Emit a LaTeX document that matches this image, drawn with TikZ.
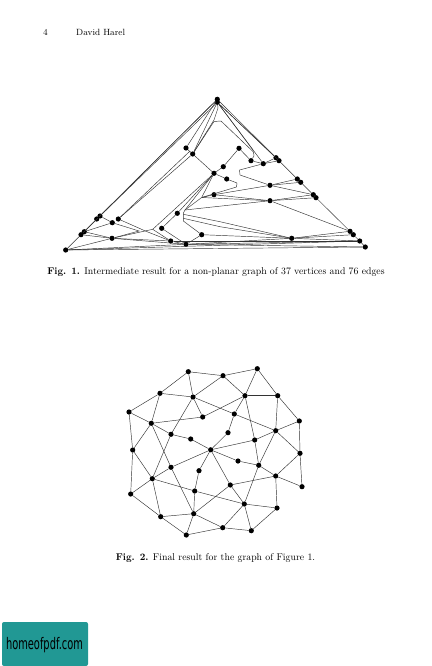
\documentclass[tikz,border=0pt]{standalone}
\usepackage{fontspec}
\newfontfamily\logofont{DejaVu Sans}
\definecolor{logoteal}{RGB}{33,152,148}
\tikzset{
 vtx/.style={circle,fill=black,inner sep=0pt,minimum size=5.2pt},
 edgeline/.style={line width=0.45pt,draw=black!80},
 caption/.style={font=\fontsize{9.8}{11}\selectfont,inner sep=0pt,anchor=base},
 header/.style={font=\fontsize{9}{11}\selectfont,inner sep=0pt,anchor=base west}
}
\begin{document}
\begin{tikzpicture}[x=1pt,y=-1pt]
\useasboundingbox (0,0) rectangle (431,666);
\fill[white] (0,0) rectangle (431,666);
\node[header] (pg) at (43,36) {4};
\node[header] (au) at (76,36) {David Harel};
\node[caption] (c1) at (216,274.5) {\textbf{Fig. 1.} Intermediate result for a non-planar graph of 37 vertices and 76 edges};
\node[caption] (c2) at (215.5,560) {\textbf{Fig. 2.} Final result for the graph of Figure 1.};
% Figure 1 vertices
\foreach \n/\x/\y in {T1/217.3/99.3,T2/217.3/102.3,O/65.7/250,A1/81/234.7,A2/84.3/231.7,B1/96.7/219,B2/100/216,C1/112.3/222.7,C2/118.3/219,D/112/238.3,E/170.7/241,F/186/244.3,G/161.7/228.3,H/177.3/213.3,I/201.7/234.7,J/214/194.7,K/214/173.3,M/192.7/154,N/186/148,P/239/148.3,Q/251/160.7,R/263.3/163.7,S1/276/157.7,S2/279/160.7,U/223.3/166.7,V/226.7/179,W1/297.3/179,W2/300.7/182.3,X/270/185.3,Y/270/200.7,Z1/313.3/194.7,Z2/316/197.7,a1/350/231.3,a2/353.3/234.7,b/291.7/238.3,c/359.7/241,d/365.3/247}
  \node[vtx] (\n) at (\x,\y) {};
\coordinate (p1) at (201.7,197.5);
\coordinate (p2) at (185,210);
\coordinate (p3) at (152.7,229.3);
% Figure 1 straight edges
\foreach \p/\q in {O/A1,A1/B1,A2/B2,B1/T1,B2/T1,B2/T2,O/d,O/c,O/D,O/F,A1/D,A2/D,A2/C1,B2/C1,D/E,D/F,E/F,G/F,G/H,F/I,N/M,M/K,N/T1,M/T2,H/K,K/U,U/P,P/Q,Q/R,R/S1,R/S2,T2/R,T1/S1,T2/S1,T2/S2,S1/S2,S2/W1,W1/W2,W2/Z1,Z1/Z2,Z2/a1,a1/a2,a2/c,c/d,K/V,J/X,X/W1,X/W2,X/Z1,J/Y,Y/Z1,Y/Z2,Y/a1,b/a1,b/a2,b/c,F/b,F/d,F/c,I/b,p2/K,p1/K,p2/p1,p2/Y,p1/Y,J/p1,p3/E,p3/K,D/p3}
  \draw[edgeline] (\p) -- (\q);
% Figure 1 routed edges
\draw[edgeline] (C2) -- (M);
\draw[edgeline] (C2) -- (189.5,151.5) -- (M);
\draw[edgeline] (C2) -- (146.5,231.5) -- (E);
\draw[edgeline] (C1) -- (139,231) -- (D);
\draw[edgeline] (M) -- (214,120) -- (218,108) -- (T2);
\draw[edgeline] (M) -- (214,121.5) -- (221,121) -- (253.5,152) -- (254,156) -- (Q);
\draw[edgeline] (T2) -- (253,150);
\draw[edgeline] (R) -- (239.5,170) -- (240,175) -- (X);
\draw[edgeline] (V) -- (237,183) -- (236.5,187) -- (p1);
\draw[edgeline] (I) -- (183.3,221) -- (183.3,213.3) -- (p2);
\draw[edgeline] (183.3,214.3) -- (220,221.7) -- (b);
\draw[edgeline] (183.3,218.3) -- (220,226.7) -- (b);
\draw[edgeline] (E) -- (c);
% Figure 2
\foreach \n/\x/\y in {va/188.3/371.7,vb/160/393.3,vc/193/397,vd/129/412,ve/151.3/423.3,vf/202.7/417,vg/171/434.3,vh/190.7/439,vi/210.7/449.8,vj/132.7/450,vk/223/375.7,vl/257.3/368.7,vm/245/395.7,vn/277.7/395.7,vo/234.3/414,vp/299.3/421,vq/275.7/430.7,vr/228/432.7,vs/254.7/440,vt/171/467.3,vu/199/470.7,vv/152.3/478.7,vw/194.7/491,vx/130.7/494,vy/193.7/513.7,vz/160.7/516.7,vA/186.3/535,vB/300/453.3,vC/238/461,vD/258.7/465.3,vE/275.7/476,vF/302/486.7,vG/230.3/485,vH/244.3/504,vI/277/508,vJ/222.7/527.7,vK/251.3/530.7}
  \node[vtx] (\n) at (\x,\y) {};
\foreach \p/\q in {va/vk,va/vb,va/vc,vb/vc,vb/vd,vb/ve,vc/vk,vc/vf,vc/vo,vc/vg,vd/ve,vd/vj,ve/vj,ve/vf,ve/vg,ve/vt,vf/vm,vg/vh,vg/vv,vh/vi,vi/vr,vr/vo,vo/vm,vo/vq,vm/vk,vm/vl,vm/vn,vm/vs,vk/vl,vl/vn,vn/vp,vn/vq,vp/vq,vp/vB,vq/vs,vq/vB,vq/vD,vs/vi,vs/vD,vi/vt,vi/vu,vi/vC,vi/vG,vt/vv,vt/vy,vu/vw,vj/vv,vj/vx,vv/vx,vv/vz,vv/vw,vw/vy,vw/vH,vx/vz,vz/vy,vz/vA,vy/vA,vy/vG,vy/vJ,vA/vJ,vC/vD,vD/vE,vD/vH,vB/vE,vB/vF,vE/vF,vE/vI,vE/vG,vG/vH,vH/vI,vH/vJ,vH/vK,vI/vK,vJ/vK}
  \draw[edgeline] (\p) -- (\q);
% Logo
\fill[rounded corners=2pt,fill=logoteal] (2,622) rectangle (88,666);
\node[inner sep=0pt,xscale=0.68,yscale=1.1,font=\logofont\fontsize{14.5}{16}\selectfont] (logo) at (44.5,645) {homeofpdf.com};
\end{tikzpicture}
\end{document}
